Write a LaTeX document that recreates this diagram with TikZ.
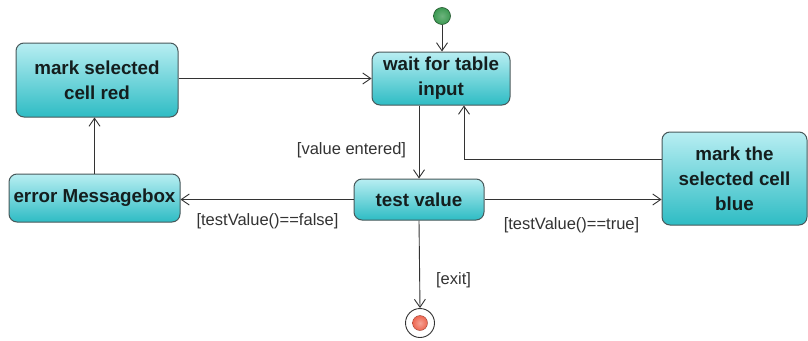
\documentclass[tikz,border=0pt]{standalone}
\usepackage{fontspec}
\setmainfont{Liberation Sans}
\usetikzlibrary{arrows.meta,calc}
\definecolor{boxtop}{HTML}{B8EEF2}
\definecolor{boxbot}{HTML}{2EBCC4}
\definecolor{boxline}{HTML}{48585A}
\definecolor{wire}{HTML}{333333}
\definecolor{txt}{HTML}{141E1E}
\definecolor{startc}{HTML}{3C9A52}
\definecolor{endc}{HTML}{EE6650}
\tikzset{
  act/.style={draw=boxline, line width=1pt, rounded corners=8pt, top color=boxtop, bottom color=boxbot,
    font=\fontsize{18.8}{25}\selectfont\bfseries, text=txt, align=center, inner sep=0pt, anchor=center},
  flow/.style={draw=wire, line width=0.9pt, -{Straight Barb[length=8pt,width=11pt,line width=0.9pt]}},
  guard/.style={font=\fontsize{16.5}{20}\selectfont, text=wire, inner sep=0pt, anchor=center}
}
\begin{document}
\begin{tikzpicture}[x=1pt,y=-1pt]
\useasboundingbox (0,0) rectangle (808,340);
\fill[white] (0,0) rectangle (808,340);
% activities
\node[act, minimum width=162pt, minimum height=74pt] (red) at (97,80) {mark selected\\cell red};
\node[act, minimum width=138pt, minimum height=53pt] (wait) at (441,78.5) {wait for table\\input};
\node[act, minimum width=130pt, minimum height=41pt] (test) at (419,199.5) {test value};
\node[act, minimum width=145pt, minimum height=93pt] (blue) at (734.5,178.5) {mark the\\selected cell\\blue};
\node[act, minimum width=171pt, minimum height=48pt] (err) at (94.5,198) {error Messagebox};
% initial and final
\node[circle, draw=startc!55!black, line width=0.6pt, inner color=startc!75!white, outer color=startc, minimum size=17pt, inner sep=0pt] (init) at (442,16) {};
\node[circle, draw=wire, line width=0.9pt, fill=white, minimum size=29pt, inner sep=0pt] (fin) at (420,323) {};
\node[circle, draw=endc!65!black, line width=0.4pt, inner color=endc!60!white, outer color=endc, minimum size=15pt, inner sep=0pt] (finin) at (420,323) {};
% connectors
\draw[flow] (init) -- (init |- wait.north);
\draw[flow] (red.east |- wait.west) -- (wait.west);
\draw[flow] (wait.south -| test.north) -- (test.north);
\draw[flow] (test.west) -- (test.west -| err.east);
\draw[flow] (err.north) -- (err.north |- red.south);
\draw[flow] (test.east) -- (test.east -| blue.west);
\draw[flow] ([yshift=19.5pt]blue.west) -| ([xshift=23pt]wait.south);
\draw[flow] (test.south) -- (fin.north);
% guards
\node[guard] (g1) at (351.5,150) {[value entered]};
\node[guard] (g2) at (267.5,221) {[testValue()==false]};
\node[guard] (g3) at (571.5,225) {[testValue()==true]};
\node[guard] (g4) at (453.5,280) {[exit]};
\end{tikzpicture}
\end{document}
